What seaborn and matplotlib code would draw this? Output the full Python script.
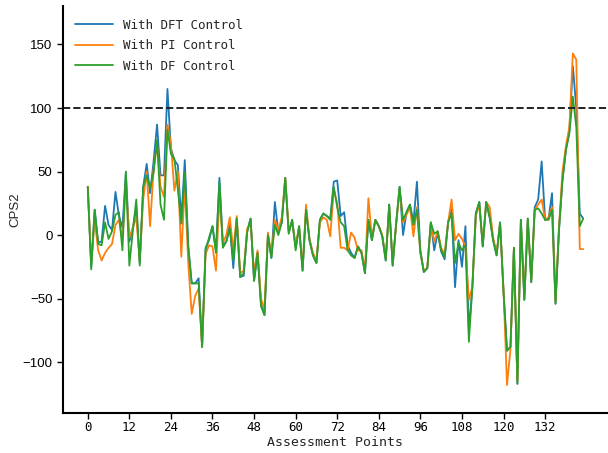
import numpy as np
import pandas as pd
import matplotlib
matplotlib.use("Agg")
import matplotlib.pyplot as plt
import seaborn as sns

series_names = ["With DFT Control", "With PI Control", "With DF Control"]
colors = ["#1f77b4", "#ff7f0e", "#2ca02c"]

dft = [38, -25, 20, -6, -5, 23, 8, 4, 34, 15, 6, 49, -5, 5, 22, -22, 38, 56, 33, 58,
       87, 47, 47, 115, 68, 59, 55, 12, 59, -8, -38, -38, -34, -88, -10, -4, 7, -12, 45, -8,
       -5, 8, -26, 12, -33, -32, 3, 13, -36, -14, -54, -63, 0, -18, 26, 2, 10, 45, 2, 12,
       -10, 7, -28, 20, -4, -16, -22, 12, 17, 15, 13, 42, 43, 15, 18, -8, -14, -18, -9, -14,
       -30, 12, -4, 12, 7, -1, -20, 24, -24, 9, 38, 0, 18, 24, 10, 42, -12, -29, -26, 10,
       -12, 2, -13, -19, 10, 20, -41, -4, -25, 7, -75, -41, 17, 26, -9, 26, 14, -4, -16, 10,
       -45, -91, -88, -10, -117, 12, -51, 13, -37, 22, 28, 58, 12, 13, 33, -54, 4, 43, 67, 82,
       133, 100, 17, 13]
pi = [38, -22, 12, -12, -20, -14, -10, -7, 8, 12, -4, 40, -2, 6, 14, -20, 28, 50, 7, 52,
      72, 38, 30, 87, 72, 35, 50, -17, 40, -22, -62, -48, -42, -88, -15, -8, -9, -28, 30, -6,
      0, 14, -12, 15, -30, -28, 5, 10, -30, -12, -50, -58, 2, -16, 12, 4, 14, 45, 4, 10,
      -8, 6, -26, 24, -3, -14, -20, 10, 14, 12, -1, 36, 25, -10, -10, -12, 2, -2, -12, -12,
      -28, 29, -2, 12, 7, 0, -18, 22, -22, 8, 36, 10, 16, 22, -1, 22, -14, -28, -26, 8,
      -5, 3, -10, -15, 10, 28, -4, 1, -3, -9, -51, -41, 15, 24, -7, 26, 22, -2, -14, 9,
      -43, -118, -90, -10, -115, 10, -48, 12, -35, 20, 24, 28, 12, 14, 22, -52, 6, 50, 70, 85,
      143, 138, -11, -11]
df_ = [38, -27, 20, -7, -8, 10, -3, 3, 16, 18, -12, 50, -24, 3, 28, -24, 38, 47, 37, 49,
       75, 24, 12, 83, 64, 60, 36, 9, 49, -10, -38, -38, -38, -88, -12, -2, 7, -14, 42, -10,
       -5, 5, -20, 13, -33, -30, 2, 13, -36, -14, -56, -63, 0, -18, 8, 0, 10, 45, 1, 12,
       -12, 7, -28, 20, -4, -16, -22, 12, 17, 15, 12, 38, 22, 10, 7, -12, -16, -18, -9, -14,
       -30, 12, -4, 12, 7, -1, -20, 24, -24, 9, 38, 12, 18, 24, 8, 20, -14, -29, -26, 10,
       1, 3, -12, -17, 10, 17, -22, -6, -12, -8, -84, -41, 17, 26, -9, 26, 14, -4, -16, 10,
       -45, -91, -88, -10, -117, 12, -51, 13, -37, 20, 21, 17, 12, 12, 20, -54, 4, 43, 67, 80,
       109, 85, 7, 13]

points = np.arange(len(dft))
x_ticks = list(range(0, 133, 12))
y_ticks = [-100, -50, 0, 50, 100, 150]
threshold = 100

data = pd.DataFrame({
    "Assessment Points": np.concatenate([points, points, points]),
    "CPS2": np.concatenate([dft, pi, df_]),
    "Series": np.repeat(series_names, len(points)),
})

sns.set_style("ticks")
mono = ["DejaVu Sans Mono"]
sans = ["Liberation Sans", "DejaVu Sans"]

fig = plt.figure(figsize=(6.08, 4.53), dpi=100)
ax = fig.add_axes([0.1036, 0.0883, 0.8964, 0.8977])

sns.lineplot(data=data, x="Assessment Points", y="CPS2", hue="Series",
             hue_order=series_names, palette=colors, linewidth=1.3, ax=ax)
ax.axhline(threshold, color="#222222", linestyle="--", linewidth=1.4)

ax.set_xlim(-7.15, 150.15)
ax.set_ylim(-140, 180)
ax.set_xticks(x_ticks)
ax.set_xticklabels([str(t) for t in x_ticks], family=mono, fontsize=9)
ax.set_yticks(y_ticks)
ax.set_yticklabels([str(t).replace("-", "\u2212") for t in y_ticks], family=sans, fontsize=9.5)
ax.set_xlabel("Assessment Points", family=mono, fontsize=9.5, labelpad=1)
ax.set_ylabel("CPS2", family=sans, fontsize=9.5, labelpad=1)
ax.tick_params(axis="both", length=4, width=1, colors="black")
ax.tick_params(axis="x", pad=2)
for s in ["left", "bottom"]:
    ax.spines[s].set_linewidth(1.5)
    ax.spines[s].set_color("black")
sns.despine(ax=ax)

leg = ax.legend(loc="upper left", frameon=False, prop={"family": mono, "size": 9},
                handlelength=3.0, borderaxespad=0.6, labelspacing=0.6)

fig.savefig("out.png", dpi=100)
